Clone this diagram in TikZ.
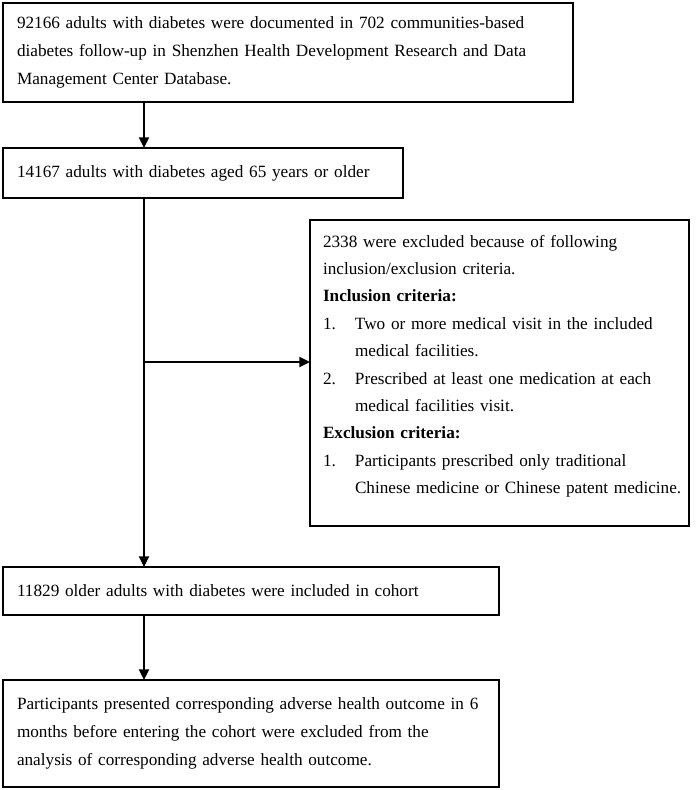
\documentclass[tikz,border=0pt]{standalone}
\usepackage{fontspec}
\setmainfont{Liberation Serif}
\usetikzlibrary{arrows.meta}
\tikzset{
  box/.style={draw, line width=1.9pt, anchor=north west, align=left, inner ysep=0pt,
    inner xsep=10.5pt, outer sep=0pt, font=\fontsize{12.9}{21}\selectfont},
  txt/.style={anchor=north west, align=left, inner sep=0pt, outer sep=0pt,
    font=\fontsize{12.9}{20.55}\selectfont},
  arr/.style={line width=1.6pt, -{Triangle[width=7.5pt,length=8pt]}}
}
\newcommand{\numitem}[1]{\makebox[24pt][l]{#1}}
\newcommand{\contitem}{\hspace*{24pt}}
\begin{document}
\begin{tikzpicture}[x=0.75pt,y=-0.75pt]
\useasboundingbox (0,0) rectangle (699,790);
\node[box, text width=406.5pt, minimum height=74.25pt] (b1) at (3,3)
 {\mbox{92166 adults with diabetes were documented in 702 communities-based}\\
  \mbox{diabetes follow-up in Shenzhen Health Development Research and Data}\\
  Management Center Database.};
\node[box, text width=279pt, minimum height=37.5pt] (b2) at (3,148)
 {14167 adults with diabetes aged 65 years or older};
\node[draw, line width=1.9pt, anchor=north west, outer sep=0pt, inner sep=0pt,
  minimum width=284.25pt, minimum height=229.5pt] (ex) at (310,220) {};
\node[txt, text width=270pt] (ext) at (323,235)
 {2338 were excluded because of following\\
  inclusion/exclusion criteria.\\
  \textbf{Inclusion criteria:}\\
  \numitem{1.}\mbox{Two or more medical visit in the included}\\
  \contitem medical facilities.\\
  \numitem{2.}\mbox{Prescribed at least one medication at each}\\
  \contitem medical facilities visit.\\
  \textbf{Exclusion criteria:}\\
  \numitem{1.}\mbox{Participants prescribed only traditional}\\
  \contitem\mbox{Chinese medicine or Chinese patent medicine.}};
\node[box, text width=351pt, minimum height=36pt] (b3) at (3,567)
 {11829 older adults with diabetes were included in cohort};
\node[box, text width=351pt, minimum height=80.25pt] (b4) at (3,680)
 {\mbox{Participants presented corresponding adverse health outcome in 6}\\
  \mbox{months before entering the cohort were excluded from the}\\
  \mbox{analysis of corresponding adverse health outcome.}};
\coordinate (tx) at (144,0);
\coordinate (br) at (144,362);
\draw[arr] (b1.south -| tx) -- (b2.north -| tx);
\draw[arr] (b2.south -| tx) -- (b3.north -| tx);
\draw[arr] (br) -- (br -| ex.west);
\draw[arr] (b3.south -| tx) -- (b4.north -| tx);
\end{tikzpicture}
\end{document}
